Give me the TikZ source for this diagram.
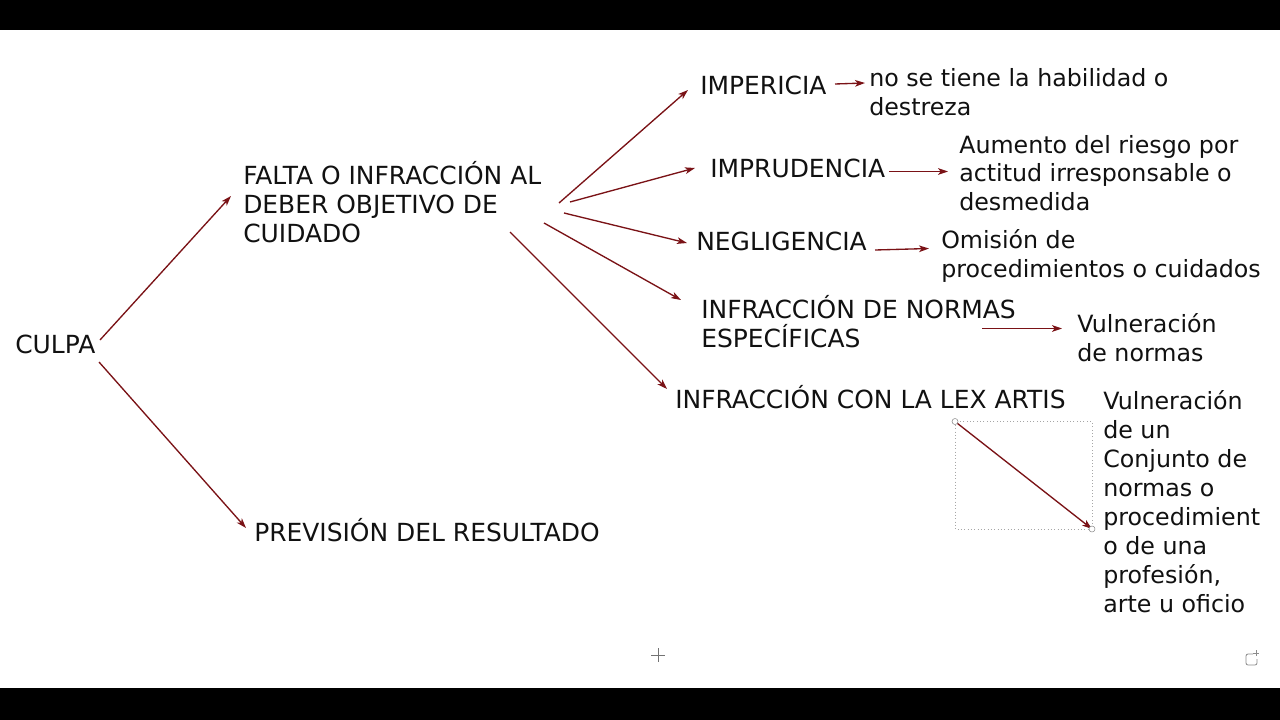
\documentclass[tikz,border=0pt]{standalone}
\usepackage{fontspec}
\setmainfont{DejaVu Sans}
\usetikzlibrary{arrows.meta}
\definecolor{arr}{RGB}{122,18,22}
\definecolor{ink}{RGB}{17,17,17}
\begin{document}
\begin{tikzpicture}[x=0.75pt,y=-0.75pt,
  txtU/.style={anchor=base west,inner sep=0pt,align=left,text=ink,
    font=\fontsize{18.7}{21.75}\selectfont},
  txtL/.style={anchor=base west,inner sep=0pt,align=left,text=ink,
    font=\fontsize{17.8}{21.75}\selectfont},
  conn/.style={draw=arr,line width=1pt,-{Stealth[length=7.5pt,width=5pt,inset=2pt]}},
  handle/.style={draw=black!45,fill=white,line width=0.4pt},
]
\useasboundingbox (0,0) rectangle (1280,720);
\fill[white] (0,0) rectangle (1280,720);
\fill[black] (0,0) rectangle (1280,30);
\fill[black] (0,688) rectangle (1280,720);

% nodes (placed at the baseline of their last line)
\node[txtU] (culpa) at (15,353) {CULPA};
\node[txtU] (falta) at (243,243) {FALTA O INFRACCIÓN AL\\DEBER OBJETIVO DE\\CUIDADO};
\node[txtU] (prev) at (254,541) {PREVISIÓN DEL RESULTADO};
\node[txtU] (imp) at (700,95) {IMPERICIA};
\node[txtU] (impr) at (710,178) {IMPRUDENCIA};
\node[txtU] (neg) at (696,250) {NEGLIGENCIA};
\node[txtU] (infn) at (701,347) {INFRACCIÓN DE NORMAS\\ESPECÍFICAS};
\node[txtU] (lex) at (675,408) {INFRACCIÓN CON LA LEX ARTIS};
\node[txtL] (d1) at (869,116) {no se tiene la habilidad o\\destreza};
\node[txtL] (d2) at (959,211) {Aumento del riesgo por\\actitud irresponsable o\\desmedida};
\node[txtL] (d3) at (941,277) {Omisión de\\procedimientos o cuidados};
\node[txtL] (d4) at (1077,361) {Vulneración\\de normas};
\node[txtL] (d5) at (1103,612.5) {Vulneración\\de un\\Conjunto de\\normas o\\procedimient\\o de una\\profesión,\\arte u oficio};

% connectors
\draw[conn] ([shift={(85,-13)}]culpa.base west) -- ([shift={(-12,-47)}]falta.base west);
\draw[conn] ([shift={(84,9)}]culpa.base west) -- ([shift={(-8,-13)}]prev.base west);
\draw[conn] ([shift={(316,-40)}]falta.base west) -- ([shift={(-12,-5)}]imp.base west);
\draw[conn] ([shift={(327,-41)}]falta.base west) -- ([shift={(-15,-10)}]impr.base west);
\draw[conn] ([shift={(321,-30)}]falta.base west) -- ([shift={(-9,-7)}]neg.base west);
\draw[conn] ([shift={(301,-20)}]falta.base west) -- ([shift={(-20,-47)}]infn.base west);
\draw[conn] ([shift={(267,-11)}]falta.base west) -- ([shift={(-8,-19)}]lex.base west);
\draw[conn] ([shift={(135,-11)}]imp.base west) -- ([shift={(-4,-33)}]d1.base west);
\draw[conn] ([shift={(179,-6.5)}]impr.base west) -- ([shift={(-11,-39.5)}]d2.base west);
\draw[conn] ([shift={(179,0)}]neg.base west) -- ([shift={(-12,-28.5)}]d3.base west);
\draw[conn] ([shift={(281,-18.5)}]infn.base west) -- ([shift={(-15,-32.5)}]d4.base west);

% selected connector with its selection frame
\coordinate (s1) at ([shift={(280,13.5)}]lex.base west);
\coordinate (s2) at ([shift={(-11,-83.5)}]d5.base west);
\draw[black!35,dotted,line width=0.5pt] (s1) rectangle (s2);
\draw[conn] (s1) -- (s2);
\draw[handle] (s1) circle (3);
\draw[handle] (s2) circle (3);

% cursor and corner icon
\draw[black!55,line width=0.6pt] (651,655) -- (665,655) (658,648) -- (658,662);
\draw[black!45,line width=0.6pt,rounded corners=1.5pt] (1253,654) -- (1246,654) -- (1246,665) -- (1257,665) -- (1257,659);
\draw[black!45,line width=0.6pt] (1256,650) -- (1256,656) (1253,653) -- (1259,653);
\end{tikzpicture}
\end{document}
